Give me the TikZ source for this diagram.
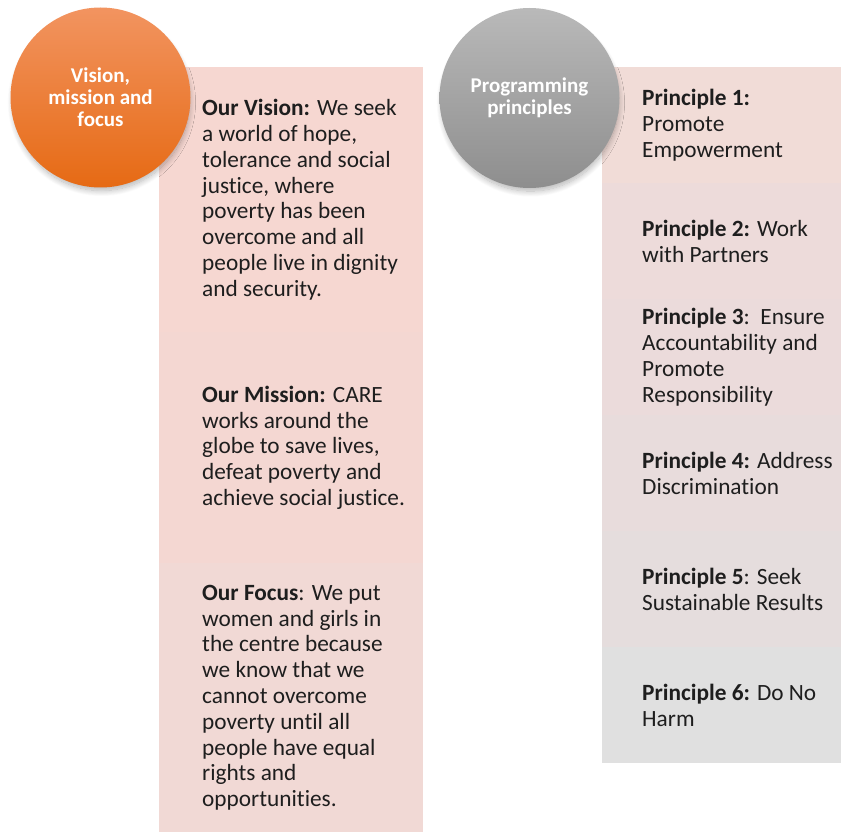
\documentclass[tikz,border=0pt]{standalone}
\usepackage{fontspec}
\setmainfont{Carlito}[Ligatures=NoCommon]
\usetikzlibrary{shadows.blur}
\definecolor{lpa}{HTML}{F6D7D1}
\definecolor{lpb}{HTML}{F4D7D2}
\definecolor{lpc}{HTML}{F1D9D5}
\definecolor{rpa}{HTML}{F1DCD7}
\definecolor{rpb}{HTML}{EDDBDA}
\definecolor{rpc}{HTML}{EBDBDB}
\definecolor{rpd}{HTML}{E8DCDC}
\definecolor{rpe}{HTML}{E5DDDD}
\definecolor{rpf}{HTML}{E0E0E0}
\definecolor{txt}{HTML}{1E1E1E}
\definecolor{ortop}{HTML}{F29460}
\definecolor{orbot}{HTML}{E66A14}
\definecolor{grtop}{HTML}{B9B9B9}
\definecolor{grbot}{HTML}{8E8E8E}
\tikzset{
  sect/.style={draw=none, inner sep=0pt, anchor=north west},
  lsect/.style={sect, minimum width=264pt},
  rsect/.style={sect, minimum width=239pt, minimum height=116pt},
  body/.style={anchor=west, inner sep=0pt, align=left, text=txt,
    font=\fontsize{23.3}{25.8}\selectfont},
  circ/.style={circle, minimum size=180pt, inner sep=0pt, align=center,
    text=white, font=\bfseries\fontsize{21}{22}\selectfont,
    blur shadow={shadow xshift=1pt, shadow yshift=-5pt, shadow scale=0.98, shadow opacity=30, shadow blur steps=14, shadow blur radius=6pt}},
}
\begin{document}
\begin{tikzpicture}[x=1pt,y=-1pt]
\useasboundingbox (0,0) rectangle (841,832);
% left panel
\node[lsect, fill=lpa, minimum height=265pt] (v) at (159,67) {};
\node[lsect, fill=lpb, minimum height=231pt] (m) at (159,332) {};
\node[lsect, fill=lpc, minimum height=269pt] (f) at (159,563) {};
% right panel
\node[rsect, fill=rpa] (p1) at (602,67) {};
\node[rsect, fill=rpb] (p2) at (602,183) {};
\node[rsect, fill=rpc] (p3) at (602,299) {};
\node[rsect, fill=rpd] (p4) at (602,415) {};
\node[rsect, fill=rpe] (p5) at (602,531) {};
\node[rsect, fill=rpf] (p6) at (602,647) {};
% left texts
\node[body] (tv) at ([xshift=43pt]v.west) {\textbf{Our Vision:} We seek\\a world of hope,\\tolerance and social\\justice, where\\poverty has been\\overcome and all\\people live in dignity\\and security.};
\node[body] (tm) at ([xshift=43pt]m.west) {\textbf{Our Mission:} CARE\\works around the\\globe to save lives,\\defeat poverty and\\achieve social justice.};
\node[body] (tf) at ([xshift=43pt]f.west) {\textbf{Our Focus}: We put\\women and girls in\\the centre because\\we know that we\\cannot overcome\\poverty until all\\people have equal\\rights and\\opportunities.};
% right texts
\node[body] (t1) at ([xshift=40pt]p1.west) {\textbf{Principle 1:}\\Promote\\Empowerment};
\node[body] (t2) at ([xshift=40pt]p2.west) {\textbf{Principle 2:} Work\\with Partners};
\node[body] (t3) at ([xshift=40pt]p3.west) {\textbf{Principle 3}:\ \ Ensure\\Accountability and\\Promote\\Responsibility};
\node[body] (t4) at ([xshift=40pt]p4.west) {\textbf{Principle 4:} Address\\Discrimination};
\node[body] (t5) at ([xshift=40pt]p5.west) {\textbf{Principle 5}: Seek\\Sustainable Results};
\node[body] (t6) at ([xshift=40pt]p6.west) {\textbf{Principle 6:} Do No\\Harm};
% circles
\node[circ, top color=ortop, bottom color=orbot] (c1) at (100.5,97.5) {Vision,\\mission and\\focus};
\node[circ, top color=grtop, bottom color=grbot] (c2) at (529.5,98) {Programming\\principles};
\end{tikzpicture}
\end{document}
